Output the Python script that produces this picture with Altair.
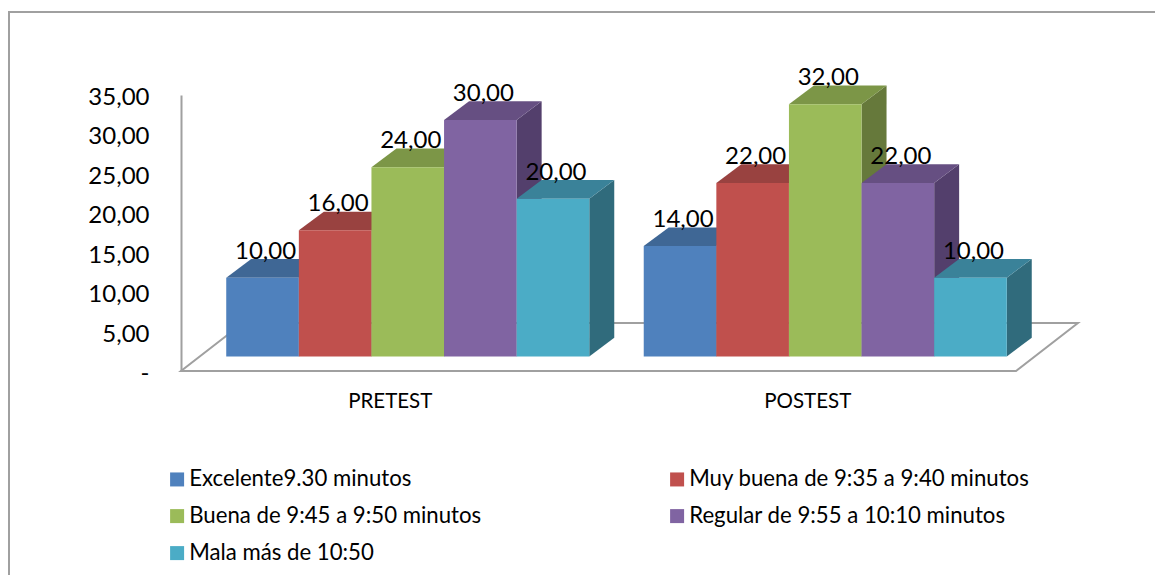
import altair as alt
import pandas as pd

# Series and values of the 3-D clustered columns
groups = ["PRETEST", "POSTEST"]
series = [
    "Excelente9.30 minutos",
    "Muy buena de 9:35 a 9:40 minutos",
    "Buena de 9:45 a 9:50 minutos",
    "Regular de 9:55 a 10:10 minutos",
    "Mala más de 10:50",
]
values = [
    [10, 16, 24, 30, 20],
    [14, 22, 32, 22, 10],
]
front_colors = ["#4f81bd", "#c0504d", "#9bbb59", "#8064a2", "#4bacc6"]
top_colors = ["#3f6795", "#994240", "#7c9647", "#664f82", "#3a8299"]
side_colors = ["#335476", "#7f3533", "#66793b", "#533f6c", "#306b7c"]

# Oblique projection, in axis units (one x unit is one column width)
GAP = 0.75
GROUP_STEP = len(series) + GAP
X_MAX = GROUP_STEP * len(groups)
FLOOR_DX, FLOOR_DY = 0.853, 6.09
BAR_DX, BAR_DY = 0.344, 2.37
START_DX, BASE = 0.248, 1.84

fronts, sides, tops, labels = [], [], [], []
for g, group in enumerate(groups):
    for s, name in enumerate(series):
        v = values[g][s]
        x0 = g * GROUP_STEP + GAP / 2 + START_DX + s
        x1 = x0 + 1
        top = BASE + v
        key = f"{group}-{s}"
        fronts.append({"serie": name, "x": x0, "x2": x1, "y": BASE, "y2": top})
        sides += [
            {"key": key, "serie": name, "x": x1, "y": BASE, "y2": top},
            {"key": key, "serie": name, "x": x1 + BAR_DX, "y": BASE + BAR_DY, "y2": top + BAR_DY},
        ]
        tops += [
            {"key": key, "serie": name, "y": top, "x": x0, "x2": x1},
            {"key": key, "serie": name, "y": top + BAR_DY, "x": x0 + BAR_DX, "x2": x1 + BAR_DX},
        ]
        labels.append({"x": x0 + 0.5, "y": top, "text": f"{v:.2f}".replace(".", ",")})

floor = pd.DataFrame([
    {"y": 0, "x": 0, "x2": X_MAX},
    {"y": FLOOR_DY, "x": FLOOR_DX, "x2": X_MAX + FLOOR_DX},
])

FONT = "Lato"
GREY = "#a0a0a0"
x_scale = alt.Scale(domain=[0, X_MAX], nice=False, zero=False)
y_scale = alt.Scale(domain=[0, 35], nice=False, zero=False)
centers = [g * GROUP_STEP + GROUP_STEP / 2 for g in range(len(groups))]
x_labels = f"datum.value < {GROUP_STEP} ? '{groups[0]}' : '{groups[1]}'"

x_axis = alt.Axis(
    values=centers, labelExpr=x_labels, title=None, grid=False, domain=False, ticks=False,
    labelFont=FONT, labelFontSize=20.5, labelColor="#000000", labelPadding=20, labelFlush=False,
    labelOverlap=False,
)
y_axis = alt.Axis(
    values=[0, 5, 10, 15, 20, 25, 30, 35],
    labelExpr="datum.value === 0 ? '-' : replace(format(datum.value, '.2f'), '.', ',')",
    title=None, grid=False, domainColor=GREY, domainWidth=2, ticks=False,
    labelFont=FONT, labelFontSize=24, labelColor="#000000", labelPadding=32, labelOffset=2.5,
    labelOverlap=False,
)

# Chart border: only its top and left edges fall inside the canvas
frame = alt.Chart(pd.DataFrame({"a": [0]})).mark_rect(
    fillOpacity=0, stroke=GREY, strokeWidth=2
).encode(
    x=alt.value(-172), x2=alt.value(990), y=alt.value(-83), y2=alt.value(500)
)

floor_layer = alt.Chart(floor).mark_area(
    orient="horizontal", fill="#ffffff", stroke=GREY, strokeWidth=2
).encode(
    y=alt.Y("y:Q", scale=y_scale, axis=y_axis),
    x=alt.X("x:Q", scale=x_scale, axis=x_axis),
    x2="x2:Q",
)

side_layer = alt.Chart(pd.DataFrame(sides)).mark_area().encode(
    x=alt.X("x:Q", scale=x_scale, axis=x_axis),
    y=alt.Y("y:Q", scale=y_scale, axis=y_axis),
    y2="y2:Q",
    detail="key:N",
    fill=alt.Fill("serie:N", scale=alt.Scale(domain=series, range=side_colors), legend=None),
)

top_layer = alt.Chart(pd.DataFrame(tops)).mark_area(orient="horizontal").encode(
    y=alt.Y("y:Q", scale=y_scale, axis=y_axis),
    x=alt.X("x:Q", scale=x_scale, axis=x_axis),
    x2="x2:Q",
    detail="key:N",
    fill=alt.Fill("serie:N", scale=alt.Scale(domain=series, range=top_colors), legend=None),
)

front_layer = alt.Chart(pd.DataFrame(fronts)).mark_rect().encode(
    x=alt.X("x:Q", scale=x_scale, axis=x_axis),
    x2="x2:Q",
    y=alt.Y("y:Q", scale=y_scale, axis=y_axis),
    y2="y2:Q",
    fill=alt.Fill(
        "serie:N",
        scale=alt.Scale(domain=series, range=front_colors),
        legend=alt.Legend(
            title=None, orient="none", legendX=-15, legendY=373, columns=2, direction="horizontal",
            symbolType="square", symbolSize=196, symbolStrokeWidth=0,
            labelFont=FONT, labelFontSize=22.2, labelColor="#000000",
            columnPadding=184, rowPadding=14, labelOffset=1, labelLimit=400,
        ),
    ),
)

label_layer = alt.Chart(pd.DataFrame(labels)).mark_text(
    font=FONT, fontSize=24, color="#000000", baseline="middle", dx=3, dy=-26
).encode(
    x=alt.X("x:Q", scale=x_scale, axis=x_axis),
    y=alt.Y("y:Q", scale=y_scale, axis=y_axis),
    text="text:N",
)

chart = alt.layer(
    frame, floor_layer, side_layer, top_layer, front_layer, label_layer
).resolve_scale(fill="independent").properties(
    width=835,
    height=276,
    padding={"left": 181, "top": 95, "right": 139, "bottom": 204},
    autosize=alt.AutoSizeParams(type="none"),
    background="#ffffff",
).configure_view(stroke=None).configure_axis(labelOverlap=False)

chart.save("out.html", embed_options={"renderer": "svg", "actions": False})
